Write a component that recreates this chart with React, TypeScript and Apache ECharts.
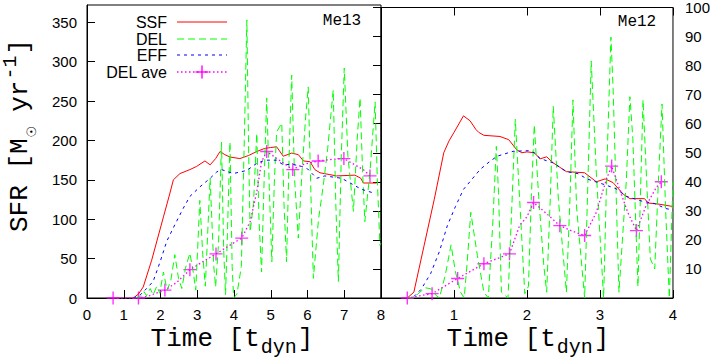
import React, { useEffect, useRef } from 'react';
import * as echarts from 'echarts';

// ---------- tick labels ----------
const xTicksMe13 = [0, 1, 2, 3, 4, 5, 6, 7, 8];
const xTicksMe12 = [1, 2, 3, 4];
const yTicksLeft = [0, 50, 100, 150, 200, 250, 300, 350];
const yTicksRight = [10, 20, 30, 40, 50, 60, 70, 80, 90, 100];

const legendNames = ['SSF', 'DEL', 'EFF', 'DEL ave'];
const panelNames = ['Me13', 'Me12'];

// ---------- Me13 (left panel) : [time, SFR] ----------
const ssfMe13 = [
  [1.26, 0], [1.4, 5], [1.53, 14], [1.76, 48], [2.08, 103], [2.25, 132], [2.35, 150], [2.53, 158],
  [2.8, 163], [2.98, 167], [3.21, 174], [3.35, 169], [3.5, 177], [3.62, 186], [3.75, 182], [3.89, 179],
  [4.16, 177], [4.4, 181], [4.62, 186], [4.84, 190], [5.0, 191], [5.16, 192], [5.34, 180], [5.57, 184],
  [5.75, 182], [5.89, 174], [6.07, 173], [6.2, 163], [6.34, 159], [6.79, 155], [7.29, 156], [7.45, 152],
  [7.52, 146], [7.88, 146],
];
const delMe13 = [
  [1.3, 0], [1.45, 2], [1.55, 8], [1.62, 3], [1.72, 12], [1.8, 4], [1.9, 15], [1.98, 6], [2.08, 33],
  [2.18, 10], [2.28, 22], [2.39, 55], [2.49, 25], [2.58, 12], [2.68, 38], [2.8, 57], [2.89, 33],
  [2.96, 10], [3.07, 124], [3.15, 55], [3.22, 15], [3.35, 152], [3.45, 40], [3.5, 14], [3.58, 70],
  [3.66, 198], [3.72, 60], [3.77, 4], [3.82, 80], [3.89, 198], [3.95, 40], [3.99, 0], [4.08, 5],
  [4.2, 40], [4.28, 200], [4.35, 353], [4.4, 180], [4.44, 84], [4.53, 120], [4.62, 209], [4.68, 100],
  [4.75, 33], [4.82, 150], [4.89, 254], [4.96, 140], [5.03, 46], [5.1, 150], [5.16, 211], [5.3, 222],
  [5.36, 120], [5.43, 46], [5.5, 180], [5.57, 283], [5.65, 150], [5.75, 76], [5.85, 160], [5.95, 230],
  [6.02, 268], [6.1, 120], [6.16, 25], [6.3, 100], [6.43, 143], [6.55, 190], [6.7, 264], [6.77, 120],
  [6.84, 21], [6.92, 180], [7.0, 292], [7.1, 180], [7.25, 110], [7.35, 200], [7.43, 254], [7.5, 160],
  [7.56, 97], [7.7, 160], [7.84, 249], [7.9, 150], [7.97, 67], [8.0, 70],
];
const effMe13 = [
  [1.26, 0], [1.45, 4], [1.62, 12], [1.8, 21], [1.99, 46], [2.17, 72], [2.39, 93], [2.62, 114],
  [2.8, 129], [3.07, 141], [3.35, 152], [3.53, 160], [3.66, 163], [3.98, 158], [4.35, 162], [4.62, 171],
  [4.84, 175], [5.16, 175], [5.34, 169], [5.57, 170], [5.84, 167], [6.0, 164], [6.25, 152], [6.47, 155],
  [6.93, 152], [7.16, 146], [7.47, 138], [7.75, 134], [7.84, 134],
];
// [time, SFR, 1 = plotted point with marker]
const aveMe13 = [
  [0.71, 0, 1], [1.4, 0, 1], [1.7, 3, 0], [2.12, 10, 1], [2.45, 20, 0], [2.8, 36, 1], [3.15, 46, 0],
  [3.51, 56, 1], [3.85, 66, 0], [4.21, 76, 1], [4.44, 97, 0], [4.62, 135, 0], [4.75, 173, 0],
  [4.89, 186, 1], [5.2, 176, 0], [5.6, 163, 1], [5.84, 169, 0], [6.29, 174, 1], [6.66, 176, 0],
  [6.99, 177, 1], [7.29, 169, 0], [7.52, 163, 0], [7.7, 155, 1],
];

// ---------- Me12 (right panel) ----------
const ssfMe12 = [
  [0.36, 0], [0.45, 2], [0.59, 18], [0.73, 34], [0.86, 50], [0.93, 54], [1.0, 57], [1.13, 62.7],
  [1.22, 61], [1.3, 58], [1.34, 57], [1.41, 56], [1.63, 55.6], [1.75, 54.5], [1.86, 51], [1.93, 50],
  [2.0, 50.3], [2.1, 50], [2.18, 47.9], [2.27, 48.6], [2.36, 46.5], [2.45, 45], [2.54, 43.5],
  [2.79, 43.1], [2.95, 40], [3.07, 41], [3.18, 39.7], [3.32, 35.7], [3.41, 34.2], [3.61, 34.2],
  [3.66, 32.7], [3.81, 32.3], [4.0, 31.5],
];
const delMe12 = [
  [0.36, 0], [0.45, 0], [0.53, 2], [0.61, 3.5], [0.68, 3.2], [0.75, 1], [0.8, 0], [0.88, 7.8],
  [0.96, 18.3], [1.02, 9], [1.09, 2], [1.14, 0], [1.18, 12], [1.23, 29.5], [1.32, 14.7], [1.41, 2],
  [1.47, 0], [1.53, 25], [1.58, 52.2], [1.61, 36.3], [1.65, 2], [1.74, 0], [1.79, 30], [1.84, 61.5],
  [1.88, 43], [1.97, 1.5], [2.02, 4], [2.06, 35], [2.1, 59.6], [2.16, 35], [2.23, 11.3], [2.27, 2],
  [2.32, 35], [2.36, 66], [2.43, 34], [2.54, 2], [2.59, 35], [2.63, 68.2], [2.68, 31], [2.79, 0],
  [2.84, 45], [2.88, 81.6], [2.95, 43], [3.05, 0], [3.1, 50], [3.15, 89.8], [3.18, 72], [3.26, 2],
  [3.36, 40], [3.41, 69.3], [3.45, 55], [3.52, 3.9], [3.59, 68.2], [3.64, 40], [3.69, 13.5],
  [3.75, 10], [3.8, 40], [3.85, 66.8], [3.9, 30], [3.95, 0], [4.0, 40],
];
const effMe12 = [
  [0.45, 0.5], [0.55, 3], [0.68, 8.4], [0.8, 16], [0.91, 25], [1.02, 31.5], [1.13, 37.4], [1.25, 41],
  [1.36, 44.3], [1.48, 46.8], [1.59, 48.8], [1.81, 50.5], [2.02, 50.7], [2.1, 50], [2.18, 48],
  [2.36, 46.5], [2.54, 43.5], [2.7, 42.8], [2.82, 41], [3.09, 38.8], [3.22, 37.6], [3.36, 35],
  [3.58, 33.3], [3.75, 32.5], [3.9, 30.8], [4.0, 30.3],
];
const aveMe12 = [
  [0.36, 0, 1], [0.7, 1.5, 1], [1.05, 6.7, 1], [1.41, 11.8, 1], [1.76, 15.2, 1], [1.9, 25, 0],
  [2.0, 28, 0], [2.09, 32.9, 1], [2.27, 29, 0], [2.45, 24.9, 1], [2.62, 23, 0], [2.79, 21.5, 1],
  [2.95, 29.5, 0], [3.09, 41, 0], [3.16, 45.4, 1], [3.27, 37.4, 0], [3.38, 29.5, 0], [3.5, 23.2, 1],
  [3.63, 31.7, 0], [3.77, 38, 0], [3.84, 40, 1],
];

const RED = '#ff0000';
const GREEN = '#00ff00';
const BLUE = '#0000ff';
const MAGENTA = '#ff00ff';
const DASH_DEL = [7, 4];
const DASH_EFF = [3, 4];
const DASH_AVE = [1.5, 2.5];
const PLUS = 'path://M0,5H10M5,0V10';
const MONO = '"Liberation Mono", "DejaVu Sans Mono", monospace';
const SANS = '"Liberation Sans", Arial, sans-serif';

function panelSeries(idx: number, ssf: number[][], del: number[][], eff: number[][], ave: number[][]) {
  const ax = { xAxisIndex: idx, yAxisIndex: idx };
  const common = { type: 'line', showSymbol: false, symbol: 'none', silent: true, ...ax };
  return [
    { ...common, name: 'SSF', data: ssf, lineStyle: { color: RED, width: 1 } },
    { ...common, name: 'DEL', data: del, lineStyle: { color: GREEN, width: 1, type: DASH_DEL } },
    { ...common, name: 'EFF', data: eff, lineStyle: { color: BLUE, width: 1, type: DASH_EFF } },
    {
      ...common, name: 'DEL ave', data: ave.map((p) => [p[0], p[1]]),
      lineStyle: { color: MAGENTA, width: 1.3, type: DASH_AVE },
    },
    {
      type: 'scatter', silent: true, ...ax, name: 'DEL ave pts',
      data: ave.filter((p) => p[2] === 1).map((p) => [p[0], p[1]]),
      symbol: PLUS, symbolSize: 13,
      itemStyle: { color: MAGENTA, borderColor: MAGENTA, borderWidth: 1.4 },
    },
  ];
}

function legendGraphics() {
  const items: any[] = [];
  const ys = [22, 39, 55, 72];
  const styles = [
    { stroke: RED, lineWidth: 1 },
    { stroke: GREEN, lineWidth: 1, lineDash: DASH_DEL },
    { stroke: BLUE, lineWidth: 1, lineDash: DASH_EFF },
    { stroke: MAGENTA, lineWidth: 1.3, lineDash: DASH_AVE },
  ];
  legendNames.forEach((n, i) => {
    items.push({
      type: 'text', x: 167, y: ys[i],
      style: { text: n, font: `16px ${SANS}`, fill: '#000', align: 'right', verticalAlign: 'middle' },
    });
    items.push({ type: 'line', shape: { x1: 177, y1: ys[i], x2: 227, y2: ys[i] }, style: styles[i] });
  });
  items.push({ type: 'line', shape: { x1: 195.5, y1: 72, x2: 208.5, y2: 72 }, style: { stroke: MAGENTA, lineWidth: 1.4 } });
  items.push({ type: 'line', shape: { x1: 202, y1: 65.5, x2: 202, y2: 78.5 }, style: { stroke: MAGENTA, lineWidth: 1.4 } });
  return items;
}

function xTitle(cx: number) {
  const main = 26, sub = 20;
  const cw = main * 0.6, sw = sub * 0.6;
  const total = 7 * cw + 3 * sw + cw + 2;
  const x0 = cx - total / 2;
  const y = 339;
  return {
    type: 'group', children: [
      { type: 'text', x: x0, y, style: { text: 'Time [t', font: `${main}px ${MONO}`, fill: '#000', verticalAlign: 'middle' } },
      { type: 'text', x: x0 + 7 * cw + 1, y: y + 8, style: { text: 'dyn', font: `${sub}px ${MONO}`, fill: '#000', verticalAlign: 'middle' } },
      { type: 'text', x: x0 + 7 * cw + 3 * sw + 2, y, style: { text: ']', font: `${main}px ${MONO}`, fill: '#000', verticalAlign: 'middle' } },
    ],
  };
}

function yTitle() {
  const main = 26, sub = 20;
  const cw = main * 0.6, sw = sub * 0.6;
  return {
    type: 'group', x: 20, y: 232, rotation: Math.PI / 2,
    children: [
      { type: 'text', x: 0, y: 0, style: { text: 'SFR [M', font: `${main}px ${MONO}`, fill: '#000', verticalAlign: 'middle' } },
      { type: 'text', x: 6 * cw + 1, y: 11, style: { text: '☉', font: `13px "DejaVu Sans"`, fill: '#000', verticalAlign: 'middle' } },
      { type: 'text', x: 6 * cw + 11, y: 0, style: { text: ' yr', font: `${main}px ${MONO}`, fill: '#000', verticalAlign: 'middle' } },
      { type: 'text', x: 9 * cw + 12, y: -10, style: { text: '-1', font: `${sub}px ${MONO}`, fill: '#000', verticalAlign: 'middle' } },
      { type: 'text', x: 9 * cw + 13 + 2 * sw, y: 0, style: { text: ']', font: `${main}px ${MONO}`, fill: '#000', verticalAlign: 'middle' } },
    ],
  };
}

export default function App() {
  const ref = useRef<HTMLDivElement>(null);
  useEffect(() => {
    if (!ref.current) return;
    const chart = echarts.init(ref.current, undefined, { renderer: 'svg' });
    const labelStyle = { color: '#000', fontSize: 15, fontFamily: SANS, lineHeight: 15 };
    const tick = { show: true, inside: true, length: 8, lineStyle: { color: '#000', width: 1 } };
    const option: any = {
      animation: false,
      backgroundColor: '#fff',
      grid: [
        { left: 87, top: 5, width: 294, height: 293, show: true, borderColor: '#000', borderWidth: 1, containLabel: false },
        { left: 381, top: 5, width: 294, height: 293, show: true, borderColor: '#000', borderWidth: 1, containLabel: false },
      ],
      xAxis: [
        {
          gridIndex: 0, type: 'value', min: 0, max: 8, interval: 1,
          axisLine: { show: true, lineStyle: { color: '#000' } }, axisTick: tick, splitLine: { show: false },
          axisLabel: { ...labelStyle, margin: 9, formatter: (v: number) => (xTicksMe13.includes(v) ? String(v) : '') },
        },
        {
          gridIndex: 1, type: 'value', min: 0, max: 4, interval: 1,
          axisLine: { show: true, lineStyle: { color: '#000' } }, axisTick: tick, splitLine: { show: false },
          axisLabel: { ...labelStyle, margin: 9, formatter: (v: number) => (xTicksMe12.includes(v) ? String(v) : '') },
        },
        {
          gridIndex: 1, type: 'value', position: 'top', min: 0, max: 4, interval: 1,
          axisLine: { show: false }, axisTick: tick, splitLine: { show: false }, axisLabel: { show: false },
        },
      ],
      yAxis: [
        {
          gridIndex: 0, type: 'value', min: 0, max: 372, interval: 50,
          axisLine: { show: true, lineStyle: { color: '#000' } }, axisTick: tick, splitLine: { show: false },
          axisLabel: { ...labelStyle, margin: 10, showMaxLabel: false, formatter: (v: number) => (yTicksLeft.includes(v) ? String(v) : '') },
        },
        {
          gridIndex: 1, type: 'value', position: 'right', min: 0, max: 100, interval: 10,
          axisLine: { show: true, lineStyle: { color: '#000' } }, axisTick: tick, splitLine: { show: false },
          axisLabel: { ...labelStyle, margin: 12, align: 'left', formatter: (v: number) => (yTicksRight.includes(v) ? String(v) : '') },
        },
      ],
      series: [
        ...panelSeries(0, ssfMe13, delMe13, effMe13, aveMe13),
        ...panelSeries(1, ssfMe12, delMe12, effMe12, aveMe12),
      ],
      graphic: [
        ...legendGraphics(),
        { type: 'text', x: 342, y: 21, style: { text: panelNames[0], font: `16px ${MONO}`, fill: '#000', align: 'center', verticalAlign: 'middle' } },
        { type: 'text', x: 637, y: 22, style: { text: panelNames[1], font: `16px ${MONO}`, fill: '#000', align: 'center', verticalAlign: 'middle' } },
        xTitle(232),
        xTitle(528),
        yTitle(),
      ],
    };
    chart.setOption(option);
    return () => chart.dispose();
  }, []);
  return (
    <div
      ref={ref}
      style={{ position: 'absolute', left: 0, top: 0, width: 713, height: 360, background: '#fff' }}
    />
  );
}
